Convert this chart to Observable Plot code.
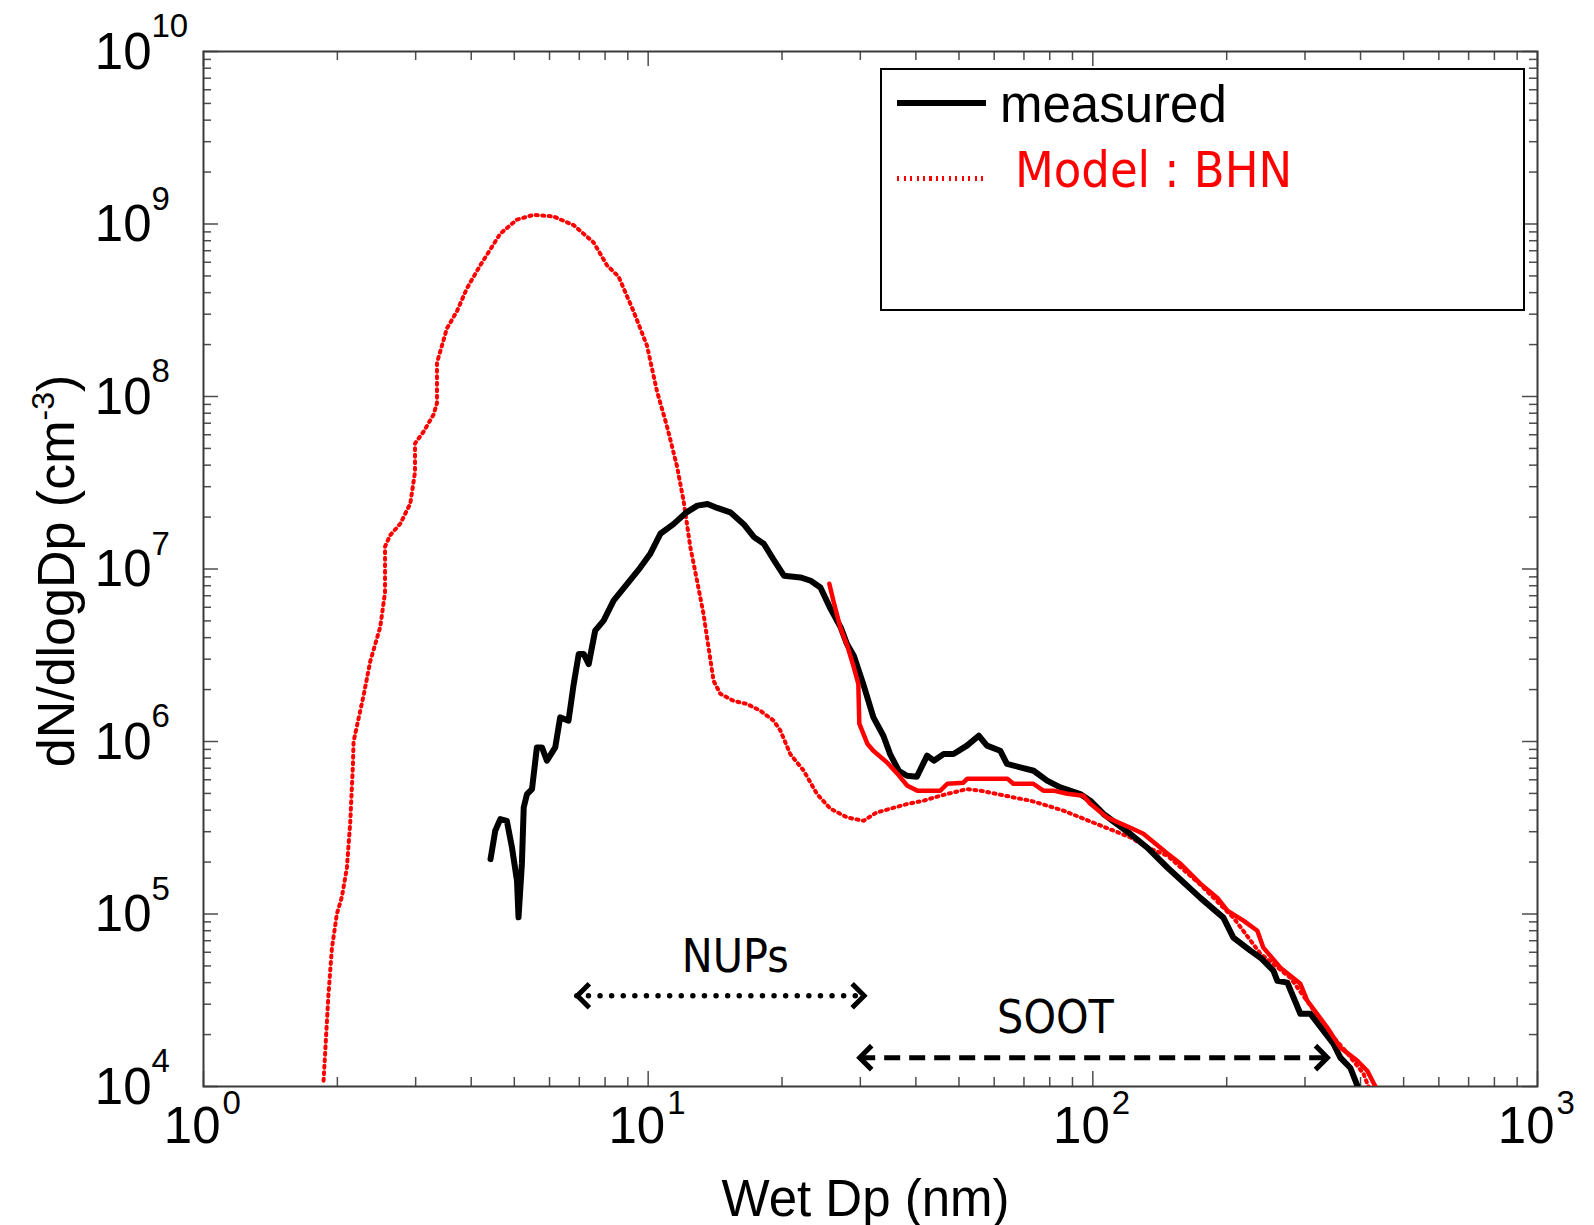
<!DOCTYPE html>
<html>
<head>
<meta charset="utf-8">
<script src="https://cdn.jsdelivr.net/npm/d3@7"></script>
<script src="https://cdn.jsdelivr.net/npm/@observablehq/plot@0.6"></script>
<style>
  html, body { margin: 0; padding: 0; background: #fff; }
  #wrap { position: relative; width: 1594px; height: 1225px; overflow: hidden; }
  #legend { position: absolute; left: 880px; top: 68px; width: 645px; height: 243px;
            box-sizing: border-box; border: 2px solid #000; background: #fff; }
  #legend .sw { position: absolute; }
  #legend .lt { position: absolute; line-height: 1; white-space: nowrap; }
</style>
</head>
<body>
<div id="wrap">
  <div id="legend">
    <div class="sw" style="left:15px;top:30px;width:89px;height:6px;background:#000"></div>
    <div class="lt" style="left:118px;top:9px;font-size:51px;color:#000;font-family:'Liberation Sans',Arial,sans-serif">measured</div>
    <div class="sw" style="left:15px;top:106px;width:89px;height:5px;background:repeating-linear-gradient(to right,#ff0000 0px,#ff0000 2px,transparent 2px,transparent 6.5px)"></div>
    <div class="lt" style="left:133px;top:75px;font-size:50px;color:#ff0000;font-family:'Liberation Sans Narrow','DejaVu Sans Condensed',sans-serif">Model : BHN</div>
  </div>
</div>
<script>
// ---------------- data ----------------
// measured size distribution (black solid)
const measuredDp = [4.42, 4.53, 4.65, 4.81, 4.94, 5.07, 5.11, 5.20, 5.25, 5.34, 5.48, 5.62, 5.77, 5.92, 6.18, 6.34, 6.62, 6.80, 6.98, 7.16, 7.35, 7.60, 7.94, 8.36, 8.96, 9.60, 10.1, 10.65, 11.4, 12.2, 12.9, 13.6, 14.3, 15.3, 16.4, 17.3, 18.2, 19.2, 20.2, 22.0, 23.2, 24.4, 25.7, 27.1, 28.0, 29.0, 30.5, 32.1, 33.8, 35.0, 36.6, 38.2, 40.2, 42.4, 43.9, 46.2, 48.6, 52.1, 55.4, 57.8, 61.9, 64.1, 68.7, 73.6, 78.9, 84.5, 93.7, 98.7, 105.7, 121.5, 132.4, 147.1, 174.5, 196.6, 207.0, 226.1, 238.2, 254.7, 260.0, 273.8, 292.9, 308.5, 347.5, 360.3, 379.5, 393.5];
const measuredN = [2.08e5, 3.04e5, 3.55e5, 3.47e5, 2.43e5, 1.56e5, 9.56e4, 1.95e5, 4.15e5, 4.96e5, 5.30e5, 9.24e5, 9.24e5, 7.74e5, 9.24e5, 1.38e6, 1.32e6, 2.15e6, 3.22e6, 3.22e6, 2.81e6, 4.39e6, 5.02e6, 6.55e6, 8.18e6, 1.02e7, 1.22e7, 1.60e7, 1.82e7, 2.13e7, 2.33e7, 2.38e7, 2.26e7, 2.13e7, 1.82e7, 1.53e7, 1.40e7, 1.12e7, 9.15e6, 8.94e6, 8.55e6, 7.82e6, 5.89e6, 4.59e6, 3.67e6, 3.14e6, 2.13e6, 1.38e6, 1.08e6, 8.46e5, 6.77e5, 6.33e5, 6.25e5, 8.28e5, 7.74e5, 8.46e5, 8.46e5, 9.46e5, 1.08e6, 9.46e5, 8.84e5, 7.41e5, 7.08e5, 6.77e5, 5.93e5, 5.42e5, 4.96e5, 4.54e5, 3.80e5, 2.91e5, 2.43e5, 1.86e5, 1.24e5, 9.53e4, 7.29e4, 6.13e4, 5.58e4, 4.69e4, 4.10e4, 4.0e4, 2.64e4, 2.64e4, 1.77e4, 1.47e4, 1.28e4, 1.01e4];

// Model : BHN (red dotted)
const bhnDp = [1.862, 1.878, 1.910, 1.944, 1.995, 2.048, 2.101, 2.138, 2.168, 2.175, 2.232, 2.290, 2.371, 2.497, 2.56, 2.56, 2.630, 2.770, 2.917, 2.99, 2.99, 3.125, 3.291, 3.35, 3.35, 3.527, 3.715, 3.912, 4.192, 4.649, 5.07, 5.524, 6.128, 6.796, 7.537, 8.08, 8.58, 9.27, 9.94, 10.47, 11.02, 11.61, 12.01, 12.44, 12.88, 13.32, 13.67, 14.03, 14.53, 15.56, 16.68, 17.87, 19.15, 19.82, 20.87, 22.37, 23.97, 25.68, 28.01, 30.51, 32.6, 35.04, 38.2, 41.64, 45.4, 52.1, 55.85, 60.87, 66.35, 72.34, 78.88, 85.97, 93.73, 102.2, 111.4, 121.5, 132.4, 147.1, 174.5, 207.0, 238.2, 278.1, 308.5, 342.1, 369.8, 405.9, 416.6];
const bhnN = [1.08e4, 1.59e4, 3.42e4, 6.31e4, 1.0e5, 1.26e5, 1.85e5, 3.41e5, 7.34e5, 9.97e5, 1.36e6, 1.84e6, 2.91e6, 4.61e6, 7.31e6, 1.35e7, 1.57e7, 1.83e7, 2.39e7, 3.65e7, 5.35e7, 6.25e7, 7.85e7, 9.16e7, 1.57e8, 2.48e8, 3.12e8, 4.24e8, 5.76e8, 8.79e8, 1.06e9, 1.13e9, 1.105e9, 9.85e8, 7.82e8, 5.76e8, 4.95e8, 3.12e8, 1.97e8, 1.07e8, 6.74e7, 3.94e7, 2.49e7, 1.34e7, 8.55e6, 5.48e6, 3.51e6, 2.25e6, 1.89e6, 1.72e6, 1.65e6, 1.51e6, 1.32e6, 1.16e6, 8.46e5, 6.78e5, 4.96e5, 4.08e5, 3.63e5, 3.47e5, 3.87e5, 4.08e5, 4.34e5, 4.54e5, 4.85e5, 5.30e5, 5.19e5, 4.96e5, 4.74e5, 4.54e5, 4.25e5, 3.97e5, 3.63e5, 3.32e5, 3.04e5, 2.78e5, 2.43e5, 2.18e5, 1.48e5, 9.53e4, 5.89e4, 4.27e4, 2.94e4, 2.02e4, 1.61e4, 1.19e4, 1.0e4];

// model, soot mode (red solid)
const sootDp = [25.55, 26.09, 27.05, 28.04, 28.93, 29.69, 29.84, 31.11, 32.09, 34.49, 36.34, 38.27, 40.3, 45.4, 47.07, 51.14, 52.21, 64.24, 66.26, 73.49, 77.4, 81.51, 87.6, 95.2, 98.7, 107.8, 121.5, 129.9, 147.1, 157.3, 174.5, 190.6, 200.7, 218.1, 234.4, 241.8, 264.1, 292.9, 303.7, 336.9, 360.3, 393.5, 414.4, 431.9];
const sootN = [8.22e6, 6.55e6, 4.57e6, 3.59e6, 2.75e6, 2.16e6, 1.27e6, 9.71e5, 8.84e5, 7.54e5, 6.51e5, 5.54e5, 5.19e5, 5.19e5, 5.69e5, 5.77e5, 6.09e5, 6.09e5, 5.69e5, 5.69e5, 5.19e5, 5.19e5, 4.98e5, 4.85e5, 4.36e5, 3.62e5, 3.16e5, 2.92e5, 2.24e5, 1.96e5, 1.50e5, 1.24e5, 1.045e5, 9.15e4, 8.0e4, 6.38e4, 4.88e4, 3.94e4, 3.14e4, 2.19e4, 1.68e4, 1.41e4, 1.23e4, 1.0e4];

// size-range annotations
const rangeLabels = ["NUPs", "SOOT"];
const rangeFrom = [6.93, 29.9];
const rangeTo = [30.6, 337];
const rangeLevel = [3.36e4, 1.47e4];
const rangeLabelDp = [15.7, 82.4];
const rangeLabelN = [5.6e4, 2.5e4];

// axes ticks
const xMajorTicks = [1, 10, 100, 1000];
const xTickExponents = ["0", "1", "2", "3"];
const xMinorTicks = [2, 3, 4, 5, 6, 7, 8, 9, 20, 30, 40, 50, 60, 70, 80, 90, 200, 300, 400, 500, 600, 700, 800, 900];
const yMajorTicks = [1e4, 1e5, 1e6, 1e7, 1e8, 1e9, 1e10];
const yTickExponents = ["4", "5", "6", "7", "8", "9", "10"];
const yMinorTicks = [2e4, 3e4, 4e4, 5e4, 6e4, 7e4, 8e4, 9e4, 2e5, 3e5, 4e5, 5e5, 6e5, 7e5, 8e5, 9e5, 2e6, 3e6, 4e6, 5e6, 6e6, 7e6, 8e6, 9e6, 2e7, 3e7, 4e7, 5e7, 6e7, 7e7, 8e7, 9e7, 2e8, 3e8, 4e8, 5e8, 6e8, 7e8, 8e8, 9e8, 2e9, 3e9, 4e9, 5e9, 6e9, 7e9, 8e9, 9e9];

const xLabel = "Wet Dp (nm)";
const yLabel = "dN/dlogDp (cm-3)";

// ---------------- tables ----------------
const measured = measuredDp.map((dp, i) => ({dp, n: measuredN[i]}));
const bhn = bhnDp.map((dp, i) => ({dp, n: bhnN[i]}));
const soot = sootDp.map((dp, i) => ({dp, n: sootN[i]}));
const ranges = rangeLabels.map((label, i) => ({label, from: rangeFrom[i], to: rangeTo[i], level: rangeLevel[i], lx: rangeLabelDp[i], ly: rangeLabelN[i]}));

// ---------------- layout ----------------
const W = 1594, H = 1225;
const mL = 203, mR = 57, mT = 51, mB = 139;
const pw = W - mL - mR, ph = H - mT - mB;
const tickColor = "#4d4d4d";
const sansFont = "'Liberation Sans', Arial, Helvetica, sans-serif";
const narrowFont = "'Liberation Sans Narrow', 'DejaVu Sans Condensed', sans-serif";

const chevronLeft = {draw(ctx, size) { const s = Math.sqrt(size / Math.PI); ctx.moveTo(s, -s); ctx.lineTo(0, 0); ctx.lineTo(s, s); }};
const chevronRight = {draw(ctx, size) { const s = Math.sqrt(size / Math.PI); ctx.moveTo(-s, -s); ctx.lineTo(0, 0); ctx.lineTo(-s, s); }};

const tickStyle = {stroke: tickColor, strokeWidth: 1.5};

const chart = Plot.plot({
  width: W, height: H,
  marginLeft: mL, marginRight: mR, marginTop: mT, marginBottom: mB,
  x: {type: "log", domain: [1, 1000], axis: null},
  y: {type: "log", domain: [1e4, 1e10], axis: null},
  style: {fontFamily: sansFont, background: "#fff", color: "#000"},
  marks: [
    // inward ticks on all four sides
    Plot.tickY(yMinorTicks, {y: d => d, insetRight: pw - 8, ...tickStyle}),
    Plot.tickY(yMinorTicks, {y: d => d, insetLeft: pw - 8, ...tickStyle}),
    Plot.tickY(yMajorTicks, {y: d => d, insetRight: pw - 15, ...tickStyle}),
    Plot.tickY(yMajorTicks, {y: d => d, insetLeft: pw - 15, ...tickStyle}),
    Plot.tickX(xMinorTicks, {x: d => d, insetTop: ph - 9, ...tickStyle}),
    Plot.tickX(xMinorTicks, {x: d => d, insetBottom: ph - 9, ...tickStyle}),
    Plot.tickX(xMajorTicks, {x: d => d, insetTop: ph - 15, ...tickStyle}),
    Plot.tickX(xMajorTicks, {x: d => d, insetBottom: ph - 15, ...tickStyle}),
    Plot.frame({stroke: "#3a3a3a", strokeWidth: 2}),

    // tick labels 10^n
    Plot.text(yMajorTicks, {y: d => d, text: () => "10", frameAnchor: "left", textAnchor: "end", lineAnchor: "middle", dx: -52, dy: 1, fontSize: 51, fill: "#000"}),
    Plot.text(yMajorTicks, {y: d => d, text: (d, i) => yTickExponents[i], frameAnchor: "left", textAnchor: "start", lineAnchor: "middle", dx: -52, dy: -25, fontSize: 33, fill: "#000"}),
    Plot.text(xMajorTicks, {x: d => d, text: () => "10", frameAnchor: "bottom", textAnchor: "end", lineAnchor: "bottom", dx: 17, dy: 56, fontSize: 51, fill: "#000"}),
    Plot.text(xMajorTicks, {x: d => d, text: (d, i) => xTickExponents[i], frameAnchor: "bottom", textAnchor: "start", lineAnchor: "bottom", dx: 19, dy: 27, fontSize: 33, fill: "#000"}),

    // axis titles
    Plot.text([xLabel], {text: d => d, frameAnchor: "bottom", textAnchor: "middle", lineAnchor: "bottom", dx: -5, dy: 129, fontSize: 51, fill: "#000"}),
    Plot.text([yLabel], {text: d => d, frameAnchor: "left", textAnchor: "middle", lineAnchor: "middle", rotate: -90, dx: -146, dy: 2, fontSize: 52, fill: "#000"}),

    // curves
    Plot.line(bhn, {x: "dp", y: "n", stroke: "#ff0000", strokeWidth: 4, strokeDasharray: "2,4.5", clip: true}),
    Plot.line(measured, {x: "dp", y: "n", stroke: "#000", strokeWidth: 6, strokeLinejoin: "round", clip: true}),
    Plot.line(soot, {x: "dp", y: "n", stroke: "#ff0000", strokeWidth: 4.5, strokeLinejoin: "round", clip: true}),

    // range annotations
    Plot.ruleY(ranges.filter(d => d.label === "NUPs"), {y: "level", x1: "from", x2: "to", stroke: "#000", strokeWidth: 5.5, strokeLinecap: "round", strokeDasharray: "0,11.6"}),
    Plot.ruleY(ranges.filter(d => d.label === "SOOT"), {y: "level", x1: "from", x2: "to", stroke: "#000", strokeWidth: 5, strokeDasharray: "16,9"}),
    Plot.dot(ranges, {x: "from", y: "level", symbol: chevronLeft, r: 12, fill: "none", stroke: "#000", strokeWidth: 5}),
    Plot.dot(ranges, {x: "to", y: "level", symbol: chevronRight, r: 12, fill: "none", stroke: "#000", strokeWidth: 5}),
    Plot.text(ranges, {x: "lx", y: "ly", text: "label", fontSize: 46, fontFamily: narrowFont, fill: "#000"})
  ]
});

// superscript for the y-axis title
d3.select(chart).selectAll("text").filter(function() { return this.textContent === yLabel; }).each(function() {
  const ns = "http://www.w3.org/2000/svg";
  while (this.firstChild) this.removeChild(this.firstChild);
  const a = document.createElementNS(ns, "tspan"); a.textContent = "dN/dlogDp (cm"; this.appendChild(a);
  const b = document.createElementNS(ns, "tspan"); b.textContent = "-3"; b.setAttribute("font-size", "32"); b.setAttribute("dy", "-20"); this.appendChild(b);
  const c = document.createElementNS(ns, "tspan"); c.textContent = ")"; c.setAttribute("dy", "20"); this.appendChild(c);
});

const wrap = document.getElementById("wrap");
chart.style.position = "absolute";
chart.style.left = "0px";
chart.style.top = "0px";
wrap.insertBefore(chart, wrap.firstChild);
</script>
</body>
</html>
